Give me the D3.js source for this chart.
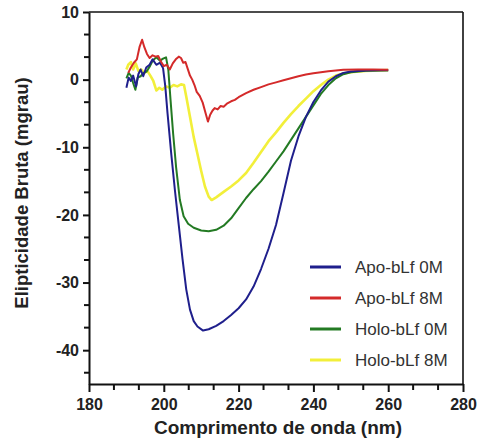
<!DOCTYPE html>
<html>
<head>
<meta charset="utf-8">
<script src="https://cdn.jsdelivr.net/npm/d3@7"></script>
<style>
	body { margin: 0; background: #fff; }
	svg { display: block; }
	.tick text { font-family: "Liberation Sans", Arial, sans-serif; font-weight: bold; font-size: 16px; fill: #222; }
	.title { font-family: "Liberation Sans", Arial, sans-serif; font-weight: bold; font-size: 19px; fill: #222; }
	.legend text { font-family: "Liberation Sans", Arial, sans-serif; font-size: 17px; fill: #333; }
</style>
</head>
<body>
<svg width="484" height="446"></svg>
<script>
// series: [wavelength nm, ellipticity mdeg]
let apo0M = [[190,-1.2],[190.6,0.3],[191.2,-0.2],[191.8,0.6],[192.6,-1.0],[193.2,0.8],[193.8,1.5],[194.5,0.5],[195.3,1.8],[196.2,2.2],[197,3.0],[198,2.2],[199,2.5],[199.8,1.7],[200.4,-1],[201,-5],[202,-11],[203,-16.5],[204,-21.5],[205,-26.5],[206,-31],[207,-34],[208,-35.7],[209,-36.5],[210.5,-37.1],[212,-36.9],[214,-36.4],[216,-35.7],[218,-34.8],[220,-33.8],[222,-32.5],[224,-30.6],[226,-28],[228,-25],[230,-21.5],[232,-16.8],[234,-12],[236,-8.4],[238,-5.5],[240,-3.3],[242,-1.6],[244,-0.3],[246,0.5],[248,1.0],[250,1.2],[254,1.35],[258,1.4],[260,1.4]];
let apo8M = [[190.5,1.0],[191.2,1.8],[192,2.5],[192.8,3.0],[193.5,4.8],[194.2,5.9],[194.8,4.8],[195.5,3.8],[196.2,3.2],[197,3.6],[197.8,3.4],[198.5,3.5],[199.3,2.6],[200,2.0],[200.8,2.2],[201.6,1.5],[202.4,2.4],[203.2,3.0],[204,3.4],[204.6,3.2],[205.2,2.5],[205.8,2.6],[206.4,1.6],[207,0.6],[207.6,0.0],[208.2,-0.8],[208.8,-1.8],[209.6,-2.4],[210.4,-3.4],[211.2,-5.0],[211.8,-6.2],[212.4,-5.2],[213,-4.6],[213.6,-4.2],[214.4,-4.4],[215.2,-3.9],[216,-4.0],[217,-3.5],[218,-3.2],[219,-3.0],[220,-2.6],[222,-2.0],[224,-1.5],[226,-1.1],[228,-0.7],[230,-0.4],[232,-0.1],[234,0.2],[236,0.5],[238,0.75],[240,0.95],[242,1.1],[244,1.25],[246,1.35],[248,1.45],[252,1.5],[256,1.5],[260,1.45]];
let holo0M = [[190,0.2],[190.6,1.0],[191.2,0.6],[191.8,-0.5],[192.4,-1.5],[193,0.3],[193.8,0.5],[194.6,1.0],[195.4,1.2],[196.3,2.0],[197,2.8],[198,3.3],[199,2.8],[199.8,3.1],[200.6,3.3],[201.2,1.5],[201.8,-3],[202.5,-8],[203.3,-13],[204.3,-17.8],[205.3,-20.2],[206.5,-21.3],[208,-21.9],[210,-22.3],[212,-22.4],[214,-22.2],[216,-21.6],[218,-20.5],[220,-19.0],[222,-17.5],[224,-16.2],[226,-15.0],[228,-13.6],[230,-12.1],[232,-10.6],[234,-8.9],[236,-7.2],[238,-5.5],[240,-3.8],[242,-2.1],[244,-0.8],[246,0.2],[248,0.8],[250,1.1],[254,1.3],[260,1.4]];
let holo8M = [[190,1.5],[190.5,2.2],[191.2,2.6],[191.8,1.5],[192.5,2.4],[193.2,1.3],[194,1.5],[194.8,1.0],[195.6,1.3],[196.4,0.6],[197.2,-0.2],[198,-1.6],[198.8,-1.2],[199.6,-1.5],[200.6,-1.0],[201.6,-1.2],[202.6,-0.8],[203.6,-1.0],[204.6,-0.7],[205.4,-0.8],[206,-2.5],[207,-5.5],[208,-8.5],[209,-11],[210,-13.5],[211,-15.8],[212,-17.3],[212.8,-17.8],[214,-17.4],[216,-16.6],[218,-15.8],[220,-14.9],[222,-13.8],[224,-12.3],[226,-10.7],[228,-9.1],[230,-7.8],[232,-6.4],[234,-5.1],[236,-3.9],[238,-2.8],[240,-1.7],[242,-0.8],[244,0],[246,0.6],[248,0.9],[250,1.1],[254,1.3],[260,1.4]];

let seriesNames = ['Apo-bLf 0M', 'Apo-bLf 8M', 'Holo-bLf 0M', 'Holo-bLf 8M'];
let seriesData = [apo0M, apo8M, holo0M, holo8M];
let seriesColors = ['#1f1f8c', '#d42a2a', '#237a23', '#f2ef3a'];

let xTicks = [180, 200, 220, 240, 260, 280];
let yTicks = [10, 0, -10, -20, -30, -40];

let svg = d3.select('svg');

let xScale = d3.scaleLinear().domain([180, 280]).range([89, 463]);
let yScale = d3.scaleLinear().domain([-45, 10]).range([384, 12]);

// minor ticks at thirds of the major step
let xMinor = [];
for (let i = 0; i < 15; i++) {
	if (i % 3 !== 0) xMinor.push(180 + i * 20 / 3);
}
let yMinor = [];
for (let i = 0; i < 17; i++) {
	if (i % 3 !== 0) yMinor.push(10 - i * 10 / 3);
}

// frame top / right
svg.append('line').attr('x1', 89).attr('x2', 463).attr('y1', 12).attr('y2', 12)
	.attr('stroke', '#111').attr('stroke-width', 1.6);
svg.append('line').attr('x1', 463).attr('x2', 463).attr('y1', 12).attr('y2', 384)
	.attr('stroke', '#111').attr('stroke-width', 1.6);

// lines
let line = d3.line()
	.x(function(d) { return xScale(d[0]); })
	.y(function(d) { return yScale(d[1]); });

// yellow/green first so blue & red sit on top
let order = [3, 2, 0, 1];
order.forEach(function(i) {
	svg.append('path')
	.datum(seriesData[i])
	.attr('fill', 'none')
	.attr('stroke', seriesColors[i])
	.attr('stroke-width', i === 3 ? 2.6 : 2)
	.attr('stroke-linejoin', 'round')
	.attr('d', line);
});

// minor ticks
svg.append('g').attr('class', 'minor')
.selectAll('line').data(xMinor).enter().append('line')
.attr('x1', function(d) { return xScale(d); })
.attr('x2', function(d) { return xScale(d); })
.attr('y1', 384).attr('y2', 390)
.attr('stroke', '#111').attr('stroke-width', 2);
svg.append('g').attr('class', 'minor')
.selectAll('line').data(yMinor).enter().append('line')
.attr('y1', function(d) { return yScale(d); })
.attr('y2', function(d) { return yScale(d); })
.attr('x1', 84).attr('x2', 89)
.attr('stroke', '#111').attr('stroke-width', 2);

// axes
svg.append('g').attr('class', 'x-axis')
.attr('transform', 'translate(0,384)')
.call(d3.axisBottom(xScale).tickValues(xTicks).tickSize(8).tickSizeOuter(0).tickPadding(7).tickFormat(function(d) { return d; }));

svg.append('g').attr('class', 'y-axis')
.attr('transform', 'translate(89,0)')
.call(d3.axisLeft(yScale).tickValues(yTicks).tickSize(6).tickSizeOuter(0).tickPadding(4).tickFormat(function(d) { return d; }));

svg.selectAll('.domain').attr('stroke', '#111').attr('stroke-width', 2);
svg.selectAll('.tick line').attr('stroke', '#111').attr('stroke-width', 2);

// axis titles
svg.append('text')
.attr('class', 'title')
.attr('text-anchor', 'middle')
.attr('transform', 'translate(278,434)')
.text('Comprimento de onda (nm)');
svg.append('text')
.attr('class', 'title')
.attr('text-anchor', 'middle')
.style('font-size', '18.5px')
.attr('transform', 'translate(28,193) rotate(-90)')
.text('Elipticidade Bruta (mgrau)');

// legend
let legend = svg.append('g').attr('class', 'legend');
seriesNames.forEach(function(name, i) {
	let y = 267 + i * 31;
	legend.append('line').attr('x1', 310).attr('x2', 341).attr('y1', y).attr('y2', y)
	.attr('stroke', seriesColors[i]).attr('stroke-width', 3);
	legend.append('text').attr('x', 355).attr('y', y + 6).text(name);
});
</script>
</body>
</html>
